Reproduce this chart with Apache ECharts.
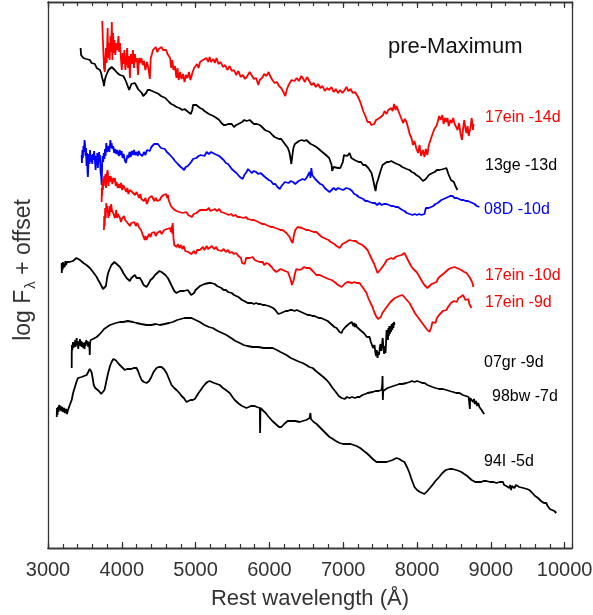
<!DOCTYPE html>
<html>
<head>
<meta charset="utf-8">
<script src="https://cdn.jsdelivr.net/npm/echarts@6/dist/echarts.min.js"></script>
<style>
  html, body { margin: 0; padding: 0; background: #fff; }
  #chart { width: 593px; height: 615px; }
</style>
</head>
<body>
<div id="chart"></div>
<script>
// wavelength (Å), log flux + offset (arbitrary units)
const sn17ein14 = [[3735,527],[3745,505],[3760,480],[3770,476],[3785,500],[3795,485],[3808,520],[3815,490],[3825,505],[3835,488],[3848,512],[3855,496],[3865,526],[3872,488],[3882,515],[3890,495],[3900,508],[3912,493],[3925,505],[3940,498],[3955,512],[3965,496],[3975,505],[3990,488],[4000,478],[4012,495],[4025,484],[4035,498],[4048,478],[4060,486],[4072,500],[4085,480],[4098,492],[4110,470],[4122,494],[4135,484],[4150,498],[4165,480],[4178,494],[4190,486],[4205,490],[4220,473],[4235,490],[4250,485],[4265,490],[4285,483],[4300,487],[4320,478],[4340,486],[4360,480],[4380,469],[4392,490],[4405,493],[4423,498],[4440,496],[4460,501],[4480,496],[4500,499],[4520,497],[4540,501],[4556,498],[4575,496],[4600,498],[4620,494],[4640,496],[4655,490],[4670,480],[4685,488],[4700,478],[4720,482],[4740,470],[4755,480],[4770,468],[4790,476],[4809,469],[4830,474],[4850,466],[4870,473],[4890,470],[4910,476],[4930,468],[4944,470],[4960,476],[4980,480],[5000,478],[5020,484],[5040,480],[5060,486],[5080,484],[5100,488],[5120,486],[5147,490],[5170,486],[5190,491],[5210,486],[5240,489],[5260,485],[5283,490],[5310,484],[5340,486],[5370,481],[5400,483],[5430,478],[5462,482],[5490,477],[5520,478],[5550,473],[5580,477],[5610,471],[5640,473],[5670,469],[5700,472],[5733,476],[5760,474],[5790,469],[5820,470],[5850,463],[5868,468],[5900,470],[5930,474],[5960,472],[5990,476],[6010,472],[6040,468],[6070,465],[6100,466],[6130,462],[6160,460],[6190,456],[6215,452],[6234,458],[6260,463],[6280,465],[6300,468],[6315,470],[6340,467],[6370,470],[6400,467],[6432,472],[6460,469],[6480,466],[6510,471],[6540,467],[6570,463],[6600,465],[6630,461],[6660,464],[6690,460],[6720,462],[6750,457],[6780,460],[6810,458],[6840,461],[6870,456],[6900,459],[6930,455],[6960,458],[6990,455],[7020,458],[7045,461],[7070,457],[7100,459],[7130,455],[7160,456],[7194,452],[7220,448],[7245,443],[7270,437],[7300,432],[7330,426],[7360,426],[7380,423],[7397,422],[7420,424],[7445,428],[7470,426],[7492,430],[7515,432],[7540,433],[7560,437],[7587,434],[7610,438],[7630,436],[7650,440],[7670,437],[7690,444],[7710,438],[7722,442],[7740,440],[7763,434],[7785,430],[7810,425],[7835,429],[7858,426],[7880,420],[7900,414],[7925,410],[7945,403],[7965,407],[7993,399],[8015,395],[8035,403],[8055,392],[8080,398],[8101,391],[8120,399],[8140,393],[8160,403],[8180,405],[8196,411],[8215,415],[8235,419],[8263,422],[8280,426],[8300,432],[8320,428],[8344,433],[8360,424],[8380,430],[8398,426],[8412,430],[8430,422],[8450,428],[8470,425],[8490,430],[8510,424],[8534,426],[8550,418],[8570,425],[8590,414],[8610,408],[8625,420],[8640,428],[8655,420],[8670,415],[8685,422],[8700,412],[8710,416],[8725,420],[8740,430],[8750,425],[8758,418],[8764,424]];

const sn13ge = [[3442,500],[3448,493],[3460,494],[3480,490],[3500,492],[3520,489],[3545,490],[3568,488],[3590,485],[3610,487],[3636,484],[3660,480],[3680,481],[3704,478],[3720,475],[3735,470],[3750,466],[3758,462],[3770,468],[3785,472],[3798,474],[3820,478],[3840,480],[3862,481],[3885,479],[3905,478],[3920,478],[3940,475],[3960,476],[3974,473],[3995,471],[4020,472],[4042,469],[4060,466],[4080,462],[4100,458],[4109,460],[4130,464],[4150,463],[4177,465],[4200,462],[4220,459],[4245,457],[4270,455],[4290,452],[4312,450],[4330,455],[4350,458],[4380,458],[4410,457],[4440,456],[4471,455],[4500,454],[4530,452],[4560,451],[4590,450],[4606,449],[4640,446],[4670,444],[4700,443],[4741,441],[4780,440],[4820,438],[4850,439],[4877,437],[4900,436],[4920,437],[4935,434],[4944,432],[4955,438],[4965,443],[4975,441],[4990,442],[5010,443],[5030,441],[5060,440],[5090,439],[5120,437],[5147,436],[5180,434],[5210,433],[5240,432],[5283,430],[5320,428],[5350,425],[5380,423],[5410,423],[5440,424],[5462,422],[5490,424],[5520,421],[5550,423],[5580,424],[5598,423],[5630,426],[5660,428],[5690,427],[5733,428],[5760,426],[5790,424],[5830,424],[5868,423],[5900,421],[5940,418],[5970,417],[6004,416],[6040,413],[6070,411],[6100,410],[6130,409],[6160,409],[6190,406],[6220,403],[6250,400],[6270,396],[6285,390],[6297,384],[6310,392],[6325,400],[6345,404],[6365,405],[6400,407],[6440,408],[6470,407],[6500,408],[6530,406],[6560,404],[6590,403],[6636,401],[6670,399],[6700,397],[6721,396],[6750,394],[6780,392],[6810,390],[6835,388],[6843,383],[6850,377],[6856,375],[6870,381],[6897,381],[6930,380],[6960,380],[6978,381],[6995,386],[7010,393],[7030,394],[7055,392],[7086,395],[7110,390],[7130,392],[7154,388],[7180,390],[7210,386],[7240,386],[7270,383],[7300,383],[7316,381],[7340,380],[7365,378],[7384,375],[7400,370],[7415,365],[7428,360],[7438,357],[7452,364],[7470,368],[7492,370],[7510,378],[7533,383],[7560,385],[7590,386],[7620,386],[7650,387],[7668,386],[7700,385],[7730,384],[7763,383],[7800,381],[7830,380],[7860,379],[7898,378],[7930,376],[7960,375],[7990,373],[8033,371],[8060,369],[8080,367],[8101,365],[8120,369],[8140,370],[8160,373],[8185,374],[8209,375],[8240,376],[8270,378],[8304,378],[8330,376],[8360,379],[8380,378],[8398,380],[8412,377],[8425,374],[8440,372],[8460,368],[8480,370],[8500,366],[8520,362],[8535,360],[8548,358]];

const sn08D = [[3456,393],[3460,385],[3466,398],[3472,390],[3480,402],[3488,396],[3495,408],[3501,404],[3508,392],[3515,400],[3522,382],[3530,395],[3536,375],[3541,371],[3548,388],[3555,394],[3562,384],[3570,398],[3578,386],[3585,393],[3591,395],[3600,384],[3608,394],[3616,388],[3625,397],[3636,388],[3645,378],[3652,392],[3660,383],[3668,395],[3675,380],[3684,390],[3692,396],[3700,386],[3704,393],[3712,376],[3720,372],[3727,363],[3734,385],[3740,392],[3748,386],[3756,395],[3764,389],[3772,399],[3780,392],[3790,405],[3800,396],[3812,398],[3822,402],[3832,396],[3845,408],[3856,400],[3862,405],[3872,399],[3884,402],[3896,395],[3910,399],[3925,394],[3936,398],[3947,396],[3960,392],[3972,398],[3985,393],[3998,397],[4010,390],[4025,394],[4040,388],[4055,385],[4065,387],[4078,393],[4090,390],[4105,396],[4120,391],[4135,397],[4150,393],[4165,398],[4180,393],[4200,396],[4215,392],[4230,397],[4245,394],[4262,396],[4280,392],[4300,396],[4320,393],[4340,398],[4360,396],[4380,397],[4400,401],[4420,400],[4440,404],[4460,402],[4488,404],[4510,403],[4530,400],[4550,401],[4583,399],[4610,396],[4640,394],[4660,392],[4691,390],[4720,387],[4740,386],[4759,384],[4780,383],[4800,381],[4820,380],[4845,378],[4865,381],[4877,379],[4895,382],[4915,384],[4940,386],[4965,389],[4990,391],[5010,390],[5040,392],[5070,393],[5097,394],[5120,392],[5150,396],[5180,394],[5210,396],[5232,395],[5260,394],[5290,393],[5320,392],[5350,390],[5380,388],[5410,385],[5440,384],[5462,382],[5490,379],[5520,377],[5553,375],[5580,373],[5600,371],[5620,370],[5638,369],[5660,373],[5690,376],[5710,379],[5733,378],[5760,375],[5790,377],[5820,376],[5850,374],[5880,375],[5910,373],[5940,371],[5959,370],[5990,368],[6020,367],[6050,364],[6080,364],[6110,361],[6139,359],[6165,362],[6190,364],[6210,366],[6230,364],[6260,365],[6290,367],[6320,366],[6350,364],[6365,366],[6395,367],[6420,366],[6450,369],[6480,368],[6510,371],[6530,373],[6545,376],[6556,370],[6568,380],[6580,373],[6600,371],[6620,369],[6636,368],[6660,366],[6690,364],[6721,363],[6750,360],[6780,358],[6815,356],[6840,358],[6870,360],[6900,358],[6930,360],[6960,359],[7000,358],[7040,360],[7086,359],[7120,357],[7150,354],[7180,353],[7210,351],[7235,350],[7270,349],[7300,347],[7330,347],[7360,346],[7397,345],[7430,345],[7460,343],[7490,345],[7520,343],[7550,344],[7587,344],[7620,343],[7650,342],[7680,342],[7710,341],[7740,341],[7763,341],[7800,338],[7830,337],[7860,335],[7900,334],[7939,333],[7970,334],[8000,333],[8030,334],[8060,333],[8085,332],[8101,334],[8120,340],[8135,338],[8160,340],[8190,341],[8220,342],[8250,344],[8280,345],[8304,346],[8330,348],[8360,349],[8390,350],[8420,351],[8450,352],[8480,352],[8510,350],[8540,350],[8570,349],[8600,348],[8630,348],[8660,347],[8690,347],[8720,346],[8750,345],[8780,344],[8810,342],[8845,341]];

const sn17ein10 = [[3727,346],[3729,360],[3733,352],[3738,366],[3744,358],[3750,370],[3756,362],[3762,372],[3770,366],[3778,374],[3786,360],[3795,370],[3805,378],[3812,375],[3820,362],[3828,372],[3838,366],[3848,372],[3862,368],[3872,364],[3885,370],[3896,366],[3906,370],[3918,362],[3930,366],[3945,360],[3960,364],[3974,360],[3990,365],[4005,358],[4020,363],[4042,361],[4060,356],[4075,360],[4090,354],[4109,358],[4125,360],[4140,356],[4160,358],[4180,353],[4200,356],[4218,353],[4235,350],[4250,354],[4265,349],[4285,351],[4300,347],[4320,350],[4340,344],[4353,345],[4370,350],[4390,348],[4405,352],[4421,350],[4440,347],[4460,350],[4480,347],[4500,349],[4515,348],[4535,351],[4550,349],[4565,353],[4583,351],[4600,354],[4615,350],[4624,353],[4635,348],[4650,345],[4665,342],[4680,340],[4700,339],[4720,338],[4740,337],[4759,338],[4780,336],[4800,337],[4825,335],[4850,334],[4875,336],[4900,333],[4925,335],[4950,331],[4975,334],[4989,333],[5010,335],[5030,337],[5060,338],[5080,336],[5097,338],[5120,340],[5150,338],[5180,340],[5200,337],[5232,338],[5260,339],[5290,337],[5320,339],[5345,336],[5368,338],[5390,335],[5420,334],[5450,333],[5480,334],[5510,332],[5540,333],[5570,331],[5600,331],[5621,331],[5650,330],[5680,331],[5710,329],[5733,330],[5760,328],[5790,328],[5820,327],[5850,326],[5868,326],[5900,324],[5930,324],[5959,323],[5990,322],[6020,321],[6050,321],[6080,320],[6094,320],[6120,319],[6150,318],[6180,318],[6200,317],[6230,315],[6255,313],[6274,311],[6290,308],[6305,306],[6315,305],[6330,312],[6350,318],[6383,321],[6410,320],[6440,320],[6470,319],[6500,318],[6530,318],[6560,317],[6600,316],[6636,316],[6660,314],[6680,313],[6710,311],[6740,310],[6770,309],[6800,308],[6830,306],[6856,306],[6880,304],[6910,302],[6935,300],[6951,300],[6970,302],[6990,304],[7010,306],[7040,306],[7060,308],[7086,308],[7110,308],[7140,307],[7170,307],[7200,305],[7230,304],[7260,303],[7290,301],[7310,299],[7330,298],[7360,293],[7380,290],[7397,288],[7420,284],[7445,279],[7465,275],[7490,277],[7510,279],[7533,280],[7560,284],[7590,288],[7620,289],[7650,290],[7680,289],[7710,291],[7740,292],[7763,291],[7790,293],[7810,294],[7830,295],[7850,292],[7870,289],[7898,285],[7920,282],[7950,279],[7970,277],[7993,276],[8020,273],[8050,269],[8074,266],[8100,263],[8120,261],[8141,260],[8170,262],[8200,264],[8230,265],[8263,266],[8290,270],[8320,272],[8344,273],[8370,275],[8400,277],[8430,279],[8460,280],[8480,280],[8510,281],[8540,280],[8570,279],[8600,278],[8615,277],[8640,276],[8670,275],[8690,273],[8710,271],[8725,269],[8740,267],[8755,264],[8764,261]];

const sn17ein9 = [[3758,318],[3762,332],[3768,322],[3775,340],[3782,330],[3790,345],[3798,336],[3806,342],[3812,341],[3818,330],[3825,338],[3832,332],[3840,342],[3848,336],[3856,344],[3866,338],[3879,340],[3888,334],[3898,336],[3906,330],[3915,333],[3925,338],[3935,330],[3947,334],[3960,332],[3974,330],[3990,326],[4000,329],[4015,328],[4030,332],[4045,328],[4060,330],[4078,325],[4095,327],[4110,322],[4130,325],[4150,323],[4170,326],[4190,322],[4210,325],[4230,321],[4245,323],[4260,318],[4275,315],[4290,312],[4310,308],[4320,312],[4335,308],[4350,311],[4370,314],[4390,311],[4405,315],[4421,313],[4440,316],[4460,312],[4480,315],[4500,313],[4520,317],[4540,314],[4556,315],[4575,318],[4595,316],[4615,319],[4635,317],[4655,320],[4665,316],[4674,318],[4680,322],[4685,314],[4690,325],[4700,310],[4710,303],[4718,301],[4730,305],[4745,301],[4760,304],[4780,300],[4800,303],[4820,299],[4840,302],[4860,297],[4880,299],[4900,296],[4920,298],[4940,294],[4962,293],[4980,297],[5000,294],[5020,298],[5040,296],[5057,298],[5080,297],[5100,301],[5120,298],[5150,302],[5170,299],[5192,300],[5220,302],[5250,299],[5280,301],[5300,298],[5327,300],[5350,297],[5380,299],[5410,296],[5440,298],[5462,295],[5490,296],[5520,294],[5550,295],[5580,292],[5598,293],[5615,290],[5630,285],[5645,287],[5665,284],[5685,290],[5705,292],[5733,290],[5755,291],[5774,291],[5800,288],[5830,287],[5850,289],[5868,286],[5890,288],[5909,286],[5930,283],[5960,285],[5990,284],[6004,285],[6030,281],[6060,278],[6094,276],[6120,278],[6150,279],[6180,278],[6210,277],[6230,278],[6250,276],[6270,272],[6290,268],[6305,263],[6315,261],[6330,268],[6345,274],[6365,279],[6383,280],[6410,278],[6440,279],[6470,281],[6500,280],[6520,279],[6545,280],[6570,278],[6600,276],[6636,273],[6660,274],[6680,273],[6710,272],[6740,271],[6770,270],[6800,269],[6843,268],[6870,266],[6900,265],[6930,263],[6955,262],[6978,261],[7000,263],[7030,265],[7060,266],[7086,266],[7120,265],[7150,266],[7180,265],[7221,265],[7250,262],[7280,259],[7316,255],[7340,250],[7370,245],[7397,241],[7420,236],[7445,232],[7470,229],[7492,228],[7510,231],[7530,235],[7560,238],[7587,240],[7610,243],[7640,246],[7668,248],[7700,250],[7730,251],[7760,252],[7803,253],[7830,251],[7850,249],[7870,247],[7898,245],[7920,242],[7950,238],[7970,235],[7993,233],[8020,230],[8050,227],[8074,225],[8100,222],[8130,219],[8150,217],[8168,216],[8190,220],[8210,226],[8236,228],[8250,225],[8270,230],[8290,228],[8310,234],[8330,232],[8350,237],[8370,235],[8398,238],[8420,241],[8440,243],[8460,245],[8480,245],[8500,247],[8520,249],[8540,246],[8560,250],[8575,248],[8590,251],[8610,250],[8625,253],[8642,251],[8655,248],[8668,250],[8680,246],[8695,249],[8710,244],[8725,242],[8737,240]];

const sn07gr = [[3185,285],[3187,275],[3190,283],[3196,278],[3202,286],[3210,280],[3218,284],[3226,281],[3235,287],[3245,283],[3258,286],[3271,285],[3290,286],[3310,288],[3338,287],[3360,288],[3385,290],[3410,289],[3433,288],[3455,287],[3480,285],[3500,284],[3520,283],[3545,281],[3568,280],[3590,278],[3610,276],[3636,275],[3660,271],[3680,268],[3704,265],[3725,262],[3745,259],[3771,257],[3785,262],[3800,270],[3815,275],[3830,278],[3839,279],[3860,283],[3880,285],[3900,286],[3920,285],[3945,283],[3974,281],[4000,278],[4020,275],[4042,273],[4065,270],[4090,268],[4109,267],[4130,270],[4150,272],[4177,273],[4200,270],[4220,271],[4245,270],[4270,267],[4295,263],[4315,261],[4335,261],[4360,264],[4390,268],[4421,270],[4450,273],[4480,275],[4510,277],[4538,276],[4560,275],[4590,273],[4610,271],[4624,270],[4645,267],[4670,263],[4691,260],[4710,257],[4741,255],[4765,256],[4790,257],[4815,255],[4840,257],[4865,258],[4894,258],[4920,256],[4940,253],[4962,252],[4980,255],[5000,258],[5025,260],[5060,262],[5090,263],[5120,264],[5147,264],[5180,265],[5210,265],[5232,265],[5260,264],[5290,262],[5320,261],[5350,260],[5380,258],[5410,258],[5440,256],[5462,256],[5490,255],[5520,253],[5550,252],[5580,251],[5600,250],[5630,248],[5660,247],[5680,245],[5706,245],[5730,246],[5760,245],[5790,244],[5820,245],[5850,244],[5880,244],[5910,243],[5940,243],[5959,243],[5990,242],[6020,241],[6050,240],[6080,238],[6100,236],[6120,234],[6139,233],[6160,235],[6190,236],[6220,237],[6250,237],[6280,238],[6310,238],[6340,237],[6370,238],[6400,237],[6430,236],[6460,235],[6490,234],[6520,233],[6550,233],[6580,232],[6610,232],[6640,231],[6670,230],[6700,230],[6730,229],[6760,228],[6790,227],[6820,225],[6850,223],[6880,221],[6910,220],[6930,218],[6950,216],[6978,215],[6995,218],[7010,220],[7030,221],[7050,222],[7075,224],[7100,225],[7115,226],[7127,226],[7140,222],[7150,225],[7160,221],[7170,224],[7185,221],[7200,222],[7215,219],[7230,220],[7245,217],[7262,218],[7280,215],[7300,214],[7320,211],[7340,210],[7357,211],[7375,206],[7390,205],[7405,200],[7424,203],[7435,196],[7445,192],[7455,198],[7465,190],[7475,196],[7485,193],[7495,200],[7505,204],[7515,197],[7525,203],[7535,210],[7545,200],[7555,194],[7565,202],[7573,195],[7580,205],[7588,218],[7594,210],[7600,218],[7606,208],[7612,220],[7618,212],[7625,222],[7632,214],[7640,222],[7648,216],[7656,224],[7664,218],[7672,225],[7680,220],[7688,226],[7695,223]];

const sn98bw = [[3321,180],[3322,195],[3325,203],[3330,198],[3338,206],[3345,200],[3352,205],[3360,202],[3368,208],[3375,201],[3388,210],[3395,203],[3402,207],[3410,199],[3418,206],[3425,203],[3433,209],[3440,202],[3448,207],[3456,201],[3465,206],[3474,208],[3480,200],[3488,205],[3495,199],[3503,206],[3510,202],[3518,208],[3526,204],[3535,207],[3545,201],[3555,206],[3562,200],[3566,193],[3570,205],[3578,208],[3591,208],[3610,209],[3635,210],[3659,211],[3690,213],[3727,216],[3760,219],[3800,221],[3839,223],[3880,224],[3920,225],[3974,226],[4020,226],[4080,227],[4150,226],[4200,225],[4260,224],[4335,223],[4400,223],[4460,224],[4515,223],[4580,224],[4640,225],[4691,226],[4750,228],[4800,229],[4850,230],[4877,231],[4910,230],[4944,230],[5000,228],[5057,226],[5120,223],[5180,221],[5232,220],[5300,217],[5360,215],[5418,213],[5480,210],[5540,207],[5598,205],[5650,203],[5700,202],[5774,201],[5850,201],[5920,200],[5990,200],[6044,200],[6100,198],[6150,196],[6230,193],[6290,190],[6350,188],[6410,186],[6450,185],[6500,183],[6540,181],[6585,180],[6630,177],[6680,174],[6730,171],[6775,168],[6810,165],[6856,160],[6900,156],[6940,152],[6978,150],[7020,149],[7050,151],[7086,150],[7120,151],[7160,150],[7190,151],[7221,151],[7260,153],[7300,154],[7330,155],[7357,155],[7400,156],[7440,157],[7480,157],[7519,158],[7528,163],[7533,172],[7537,148],[7542,157],[7560,158],[7600,160],[7640,161],[7680,162],[7722,163],[7760,164],[7800,164],[7858,165],[7900,166],[7930,167],[7966,166],[8000,167],[8040,166],[8070,165],[8101,165],[8140,163],[8175,162],[8209,161],[8250,160],[8300,159],[8350,159],[8398,158],[8440,157],[8490,156],[8530,155],[8575,155],[8620,153],[8660,152],[8700,151],[8712,150],[8716,139],[8720,150],[8740,150],[8760,146],[8772,149],[8785,144],[8800,147],[8815,142],[8830,145],[8845,141],[8860,142],[8875,138],[8890,139],[8900,135],[8913,134]];

const sn94I = [[3118,131],[3122,140],[3128,133],[3135,141],[3142,136],[3150,143],[3160,138],[3170,142],[3180,137],[3192,141],[3205,136],[3218,140],[3230,135],[3245,139],[3258,134],[3271,138],[3290,142],[3305,145],[3321,148],[3340,155],[3365,161],[3385,166],[3406,170],[3430,171],[3456,171],[3490,172],[3524,173],[3545,176],[3565,179],[3578,180],[3590,176],[3605,170],[3620,163],[3640,160],[3659,158],[3690,157],[3720,154],[3744,152],[3765,158],[3780,163],[3794,168],[3815,175],[3840,182],[3862,186],[3885,189],[3906,190],[3915,188],[3925,186],[3940,187],[3960,184],[3974,183],[4000,181],[4020,180],[4042,178],[4070,179],[4100,179],[4130,179],[4160,180],[4180,181],[4200,180],[4220,177],[4245,172],[4268,168],[4300,166],[4335,165],[4370,167],[4400,171],[4430,176],[4471,180],[4500,181],[4538,181],[4570,179],[4606,175],[4640,169],[4674,163],[4710,160],[4741,158],[4780,155],[4810,152],[4840,150],[4877,146],[4900,146],[4930,148],[4960,148],[4990,149],[5012,150],[5040,155],[5070,158],[5097,161],[5130,164],[5160,166],[5190,167],[5215,166],[5250,165],[5290,164],[5327,163],[5370,160],[5410,158],[5462,155],[5500,151],[5530,148],[5553,146],[5590,144],[5630,142],[5660,141],[5688,140],[5720,141],[5750,142],[5774,143],[5800,142],[5830,141],[5855,140],[5870,140],[5874,115],[5878,140],[5890,139],[5920,137],[5950,135],[5980,132],[6004,130],[6040,127],[6070,125],[6094,123],[6130,121],[6162,121],[6200,124],[6247,127],[6300,127],[6350,127],[6410,126],[6450,127],[6500,128],[6545,130],[6556,135],[6562,129],[6600,126],[6640,124],[6680,121],[6720,118],[6760,115],[6815,111],[6860,109],[6900,107],[6951,105],[7000,104],[7050,104],[7100,104],[7127,104],[7180,102],[7230,100],[7280,97],[7316,95],[7360,92],[7400,89],[7451,86],[7500,86],[7550,86],[7587,86],[7630,87],[7670,88],[7722,90],[7760,89],[7800,87],[7830,86],[7850,84],[7870,80],[7898,75],[7920,70],[7945,65],[7966,61],[8000,58],[8040,56],[8070,55],[8101,54],[8140,57],[8175,60],[8209,63],[8250,67],[8300,71],[8344,75],[8390,78],[8440,79],[8480,79],[8530,78],[8570,77],[8601,76],[8640,74],[8680,72],[8710,70],[8740,68],[8765,68],[8790,66],[8805,67],[8830,66],[8850,68],[8870,66],[8900,67],[8920,65],[8940,67],[8960,65],[8990,66],[9010,64],[9040,66],[9075,65],[9100,63],[9120,66],[9145,64],[9165,66],[9180,63],[9200,65],[9210,62],[9230,64],[9250,60],[9262,63],[9275,58],[9285,62],[9300,63],[9320,60],[9340,63],[9360,61],[9386,61],[9410,59],[9440,60],[9460,58],[9490,59],[9521,58],[9550,56],[9575,54],[9600,52],[9616,51],[9640,50],[9660,49],[9680,47],[9700,48],[9720,45],[9740,46],[9751,45],[9770,42],[9790,43],[9800,39],[9815,41],[9830,38],[9845,40],[9860,37],[9875,38],[9887,35]];

const seriesNames = ['17ein -14d', '13ge -13d', '08D -10d', '17ein -10d', '17ein -9d', '07gr -9d', '98bw -7d', '94I -5d'];
const seriesData = [sn17ein14, sn13ge, sn08D, sn17ein10, sn17ein9, sn07gr, sn98bw, sn94I];

// styling / label placement
const seriesColors = ['#ff0000', '#000000', '#0000ff', '#ff0000', '#ff0000', '#000000', '#000000', '#000000'];
const labelPos = [[485, 118], [485, 166], [484, 210], [485, 276], [485, 303], [484, 363], [492, 397], [484, 462]];

const FONT = '"Liberation Sans", Arial, Helvetica, sans-serif';
const AXIS_COLOR = '#333';
const X_MIN = 3000, X_MAX = 10100;

function xAxisDef(pos, interval, tickLen, withLabels) {
  return {
    type: 'value', position: pos, min: X_MIN, max: X_MAX, interval: interval,
    axisLine: { show: true, onZero: false, lineStyle: { color: AXIS_COLOR, width: 1.3 } },
    axisTick: { show: true, inside: true, length: tickLen, lineStyle: { color: AXIS_COLOR, width: 1.2 } },
    axisLabel: withLabels ? {
      show: true, fontSize: 20, color: '#333', fontFamily: FONT, margin: 12, showMaxLabel: false,
      formatter: (v) => String(v)
    } : { show: false },
    splitLine: { show: false },
    name: withLabels ? 'Rest wavelength (Å)' : '',
    nameLocation: 'middle', nameGap: 40,
    nameTextStyle: { fontSize: 22, color: '#333', fontFamily: FONT }
  };
}

function yAxisDef(pos) {
  return {
    type: 'value', position: pos, min: 0, max: 546,
    axisLine: { show: true, onZero: false, lineStyle: { color: AXIS_COLOR, width: 1.3 } },
    axisTick: { show: false }, axisLabel: { show: false }, splitLine: { show: false }
  };
}

const chart = echarts.init(document.getElementById('chart'), null, { renderer: 'canvas' });

const graphics = seriesNames.map((name, i) => ({
  type: 'text', x: labelPos[i][0], y: labelPos[i][1],
  style: { text: name, fill: seriesColors[i], font: '16px ' + FONT, verticalAlign: 'middle', textVerticalAlign: 'middle' }
}));
graphics.push({
  type: 'text', x: 388, y: 47,
  style: { text: 'pre-Maximum', fill: '#111', font: '22px ' + FONT, verticalAlign: 'middle', textVerticalAlign: 'middle' }
});
graphics.push({
  type: 'text', x: 24, y: 270, rotation: Math.PI / 2,
  style: {
    text: '{a|log F}{s|λ}{a| + offset}',
    fill: '#333', align: 'center', verticalAlign: 'middle', textAlign: 'center', textVerticalAlign: 'middle',
    rich: {
      a: { fontSize: 23, fontFamily: FONT, fill: '#333', lineHeight: 28, verticalAlign: 'middle' },
      s: { fontSize: 15, fontFamily: FONT, fill: '#333', lineHeight: 28, verticalAlign: 'bottom', padding: [0, 0, 0, 1] }
    }
  }
});

chart.setOption({
  animation: false,
  backgroundColor: '#fff',
  grid: { left: 48, right: 21, top: 2, bottom: 67, containLabel: false, outerBoundsMode: 'none' },
  xAxis: [
    xAxisDef('bottom', 1000, 6, true),
    xAxisDef('bottom', 200, 4, false),
    xAxisDef('top', 1000, 6, false),
    xAxisDef('top', 200, 4, false)
  ],
  yAxis: [yAxisDef('left'), yAxisDef('right')],
  series: seriesData.map((d, i) => ({
    name: seriesNames[i], type: 'line', data: d, xAxisIndex: 0, yAxisIndex: 0,
    showSymbol: false, symbol: 'none', smooth: false,
    lineStyle: { color: seriesColors[i], width: 1.8 },
    itemStyle: { color: seriesColors[i] }
  })),
  graphic: graphics
});
</script>
</body>
</html>
